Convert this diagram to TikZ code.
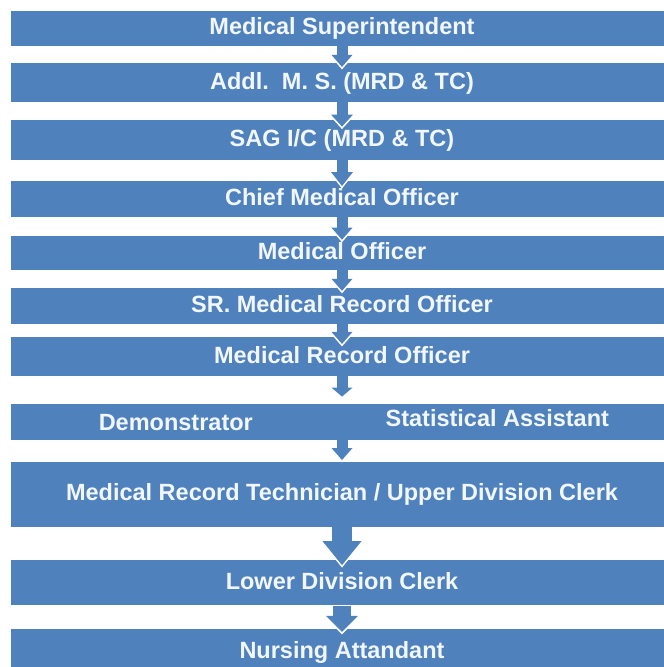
\documentclass[tikz,border=0pt]{standalone}
\usepackage{fontspec}
\setmainfont{Liberation Sans}
\usepackage{xcolor}
\usepackage{tikz}
\usetikzlibrary{positioning, arrows.meta}
\definecolor{barblue}{HTML}{4F81BD}
\definecolor{barwhite}{HTML}{F2F7FD}

\begin{document}
\begin{tikzpicture}[
            x=1pt, y=1pt,
            bar/.style={rectangle, fill=barblue, text=barwhite, minimum width=662.6pt, inner sep=0pt, font=\fontsize{23.5}{27}\selectfont\bfseries, text height=16pt, text depth=3pt},
            rolename/.style={inner sep=0pt, text=barwhite, font=\fontsize{23.5}{27}\selectfont\bfseries, text height=16pt, text depth=3pt},
            link/.style n args={3}{draw=barblue, line width=#1, -{Triangle[width=#2, length=#3, line width=0pt]},
                preaction={draw=white, shorten >=-2.5pt, -{Triangle[width=#2, length=#3, line width=0pt, scale=1.3]}}}
        ]
        \clip (0,0) rectangle (664,-667);
        \node[bar, minimum height=35.3pt] (super) at (342,-28.35) {Medical Superintendent};
        \node[bar, minimum height=39pt, below=16.7pt of super] (addlms) {Addl.\ \ M. S. (MRD \& TC)};
        \node[bar, minimum height=40pt, below=17.6pt of addlms] (sagic) {SAG I/C (MRD \& TC)};
        \node[bar, minimum height=36.7pt, below=20pt of sagic] (cmo) {Chief Medical Officer};
        \node[bar, minimum height=34.3pt, below=18pt of cmo] (mo) {Medical Officer};
        \node[bar, minimum height=35.7pt, below=17.7pt of mo] (srmro) {SR. Medical Record Officer};
        \node[bar, minimum height=38.3pt, below=13.3pt of srmro] (mro) {Medical Record Officer};
        \node[bar, minimum height=35.7pt, below=27.7pt of mro] (split) {};
        \node[rolename] (demo) at ([xshift=165.3pt, yshift=-2pt]split.west) {Demonstrator};
        \node[rolename] (statasst) at ([xshift=486.8pt, yshift=1.5pt]split.west) {Statistical Assistant};
        \node[bar, minimum height=65.7pt, below=21.6pt of split] (mrt) {Medical Record Technician / Upper Division Clerk};
        \node[bar, minimum height=45pt, below=32.7pt of mrt] (ldc) {Lower Division Clerk};
        \node[bar, minimum height=45pt, below=23.3pt of ldc] (na) {Nursing Attandant};

        \draw[link={11pt}{21pt}{12pt}] (super.south) -- ([yshift=-4pt]addlms.north);
        \draw[link={11pt}{22pt}{12pt}] (addlms.south) -- ([yshift=-6.7pt]sagic.north);
        \draw[link={11pt}{22pt}{14pt}] (sagic.south) -- ([yshift=-5.7pt]cmo.north);
        \draw[link={11pt}{21pt}{12pt}] (cmo.south) -- ([yshift=-4.3pt]mo.north);
        \draw[link={11pt}{21pt}{12pt}] (mo.south) -- ([yshift=-3pt]srmro.north);
        \draw[link={11pt}{21pt}{12pt}] (srmro.south) -- ([yshift=-6.7pt]mro.north);
        \draw[link={11pt}{21pt}{9pt}] (mro.south) -- ([yshift=7pt]split.north);
        \draw[link={11pt}{21pt}{12pt}] (split.south) -- ([yshift=1.3pt]mrt.north);
        \draw[link={20pt}{39pt}{24pt}] (mrt.south) -- ([yshift=-5pt]ldc.north);
        \draw[link={18.7pt}{32pt}{16pt}] (ldc.south) -- ([yshift=-3pt]na.north);
    \end{tikzpicture}
\end{document}
